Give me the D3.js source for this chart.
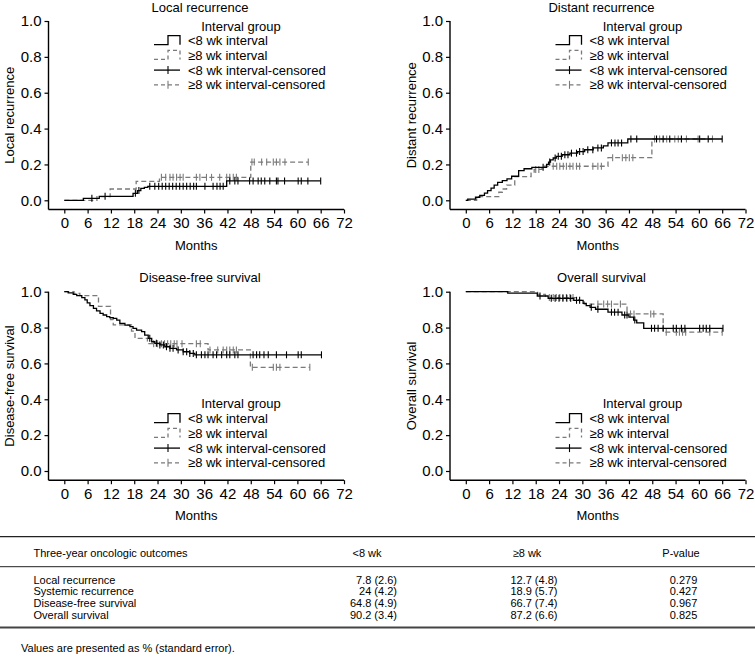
<!DOCTYPE html>
<html><head><meta charset="utf-8">
<script src="https://cdn.jsdelivr.net/npm/d3@7"></script>
<style>body{margin:0;background:#fff;} svg{display:block;} text{font-family:"Liberation Sans",Arial,Helvetica,sans-serif;fill:#000;}</style>
</head><body><svg id="c" width="755" height="661"></svg>
<script>
// ---------------- DATA ----------------
const xTicks = [0,6,12,18,24,30,36,42,48,54,60,66,72];
const yTicks = [0,0.2,0.4,0.6,0.8,1.0];
const panelTitles = ["Local recurrence","Distant recurrence","Disease-free survival","Overall survival"];
const yLabels = ["Local recurrence","Distant recurrence","Disease-free survival","Overall survival"];
const xLabel = "Months";
const legendTitle = "Interval group";
const legendItems = ["<8 wk interval","\u22658 wk interval","<8 wk interval-censored","\u22658 wk interval-censored"];

// Local recurrence
const lr_lt8_t = [0,4.9,9.0,17.7,18.8,19.7,20.6,21.5,41.8];
const lr_lt8_v = [0,0.011,0.022,0.039,0.054,0.067,0.072,0.078,0.108];
const lr_lt8_c = [7.1,10.5,18.3,19.2,22.0,23.3,24.3,25.2,26.1,27.0,27.9,28.8,29.7,30.6,31.5,32.4,33.3,34.0,36.2,38.3,39.3,40.1,40.9,42.6,43.9,44.7,47.7,48.6,49.9,50.7,51.6,52.9,54.6,55.0,56.7,60.2,61.0,62.7,66.0];
const lr_ge8_t = [0,8.4,11.8,18.5,24.5,48.0];
const lr_ge8_v = [0,0.021,0.063,0.106,0.128,0.213];
const lr_ge8_c = [25.0,26.1,27.2,28.0,28.9,29.8,30.6,34.0,34.9,36.6,37.9,40.0,41.8,42.6,43.5,44.3,48.3,48.9,50.8,52.1,53.8,54.6,55.5,56.8,62.8];

// Distant recurrence
const dr_lt8_t = [0,0.5,2.5,3.6,4.8,5.6,6.5,7.3,8.2,9.4,10.6,11.8,13.6,15.0,17.0,20.8,21.3,21.8,22.5,23.3,24.8,26.8,28.8,30.6,32.8,35.4,36.6,41.7];
const dr_lt8_v = [0,0.006,0.017,0.028,0.040,0.054,0.068,0.085,0.100,0.110,0.120,0.134,0.165,0.176,0.184,0.200,0.213,0.226,0.236,0.245,0.254,0.263,0.272,0.282,0.292,0.303,0.320,0.342];
const dr_lt8_c = [19.9,21.6,23.0,23.8,24.6,25.5,26.3,27.2,28.5,29.3,30.2,31.4,32.7,34.0,34.9,37.5,38.4,39.2,40.1,42.5,44.0,49.1,50.8,52.5,55.5,60.2,62.4,66.0];
const dr_ge8_t = [0,2.8,8.5,9.4,10.5,12.6,16.8,17.6,19.6,36.6,47.9];
const dr_ge8_v = [0,0.020,0.045,0.063,0.085,0.132,0.152,0.172,0.190,0.238,0.342];
const dr_ge8_c = [18.0,18.8,22.5,23.4,24.2,25.1,25.9,26.8,27.6,28.5,29.3,32.7,34.0,34.9,37.8,40.3,41.2,42.1,43.0,48.6,49.9,51.7,53.8,54.7,56.8,59.8,63.5];

// Disease-free survival
const dfs_lt8_t = [0,1.0,2.3,3.2,4.5,5.3,5.9,6.6,7.5,8.3,9.2,10.0,10.9,11.7,12.6,13.5,14.3,15.6,16.9,17.7,18.6,19.9,20.7,21.6,22.5,23.3,24.6,25.9,27.2,28.9,30.6,32.3,33.6];
const dfs_lt8_v = [1,0.993,0.985,0.978,0.967,0.954,0.938,0.922,0.907,0.893,0.879,0.870,0.861,0.855,0.851,0.842,0.823,0.814,0.805,0.795,0.786,0.777,0.758,0.740,0.721,0.712,0.703,0.693,0.684,0.675,0.665,0.656,0.648];
const dfs_lt8_c = [22.0,23.7,24.6,25.5,26.3,27.2,28.0,29.3,30.6,31.5,32.3,33.2,34.0,35.3,36.2,37.0,38.3,39.2,40.5,41.8,42.6,43.9,44.7,48.6,49.5,50.3,51.4,52.5,54.6,57.2,60.2,61.0,66.2];
const dfs_ge8_t = [0,2.5,4.0,8.8,11.9,12.6,17.3,18.2,21.4,37.0,47.9];
const dfs_ge8_v = [1,0.990,0.978,0.918,0.845,0.815,0.780,0.740,0.710,0.675,0.578];
const dfs_ge8_c = [23.0,24.0,25.0,25.8,26.6,27.4,28.3,29.0,30.3,34.0,35.0,37.5,39.5,40.9,41.8,42.6,43.5,44.3,48.4,53.8,54.6,55.5,63.2];

// Overall survival
const os_lt8_t = [0,10.8,18.4,21.2,27.8,30.2,31.0,32.0,33.4,36.6,40.2,42.0,43.2,44.0,45.8];
const os_lt8_v = [1,0.992,0.976,0.963,0.952,0.935,0.922,0.913,0.902,0.886,0.870,0.858,0.842,0.826,0.796];
const os_lt8_c = [19.1,22.0,23.0,24.0,25.0,26.0,27.0,28.5,29.3,32.3,34.0,37.5,38.3,39.2,40.9,41.5,43.5,47.8,48.6,49.5,50.8,53.4,54.2,55.5,56.4,60.2,61.1,61.9,62.8,66.2];
const os_ge8_t = [0,18.5,20.5,29.0,30.5,41.5,50.8];
const os_ge8_v = [1,0.985,0.967,0.952,0.931,0.876,0.774];
const os_ge8_c = [21.5,22.5,23.3,24.2,25.0,25.9,26.8,27.6,34.0,35.5,36.5,37.5,39.8,42.4,43.3,47.6,48.4,51.6,54.2,55.0,55.8,56.6,62.8,66.0];

// Table
const tblHeader = ["Three-year oncologic outcomes","<8 wk","\u22658 wk","P-value"];
const tblRows = ["Local recurrence","Systemic recurrence","Disease-free survival","Overall survival"];
const tblLt8 = ["7.8 (2.6)","24 (4.2)","64.8 (4.9)","90.2 (3.4)"];
const tblGe8 = ["12.7 (4.8)","18.9 (5.7)","66.7 (7.4)","87.2 (6.6)"];
const tblP = ["0.279","0.427","0.967","0.825"];
const footnote = "Values are presented as % (standard error).";

// ---------------- DRAW ----------------
const svg = d3.select("#c");
const BLACK = "#000", GREY = "#7a7a7a";
const L = {x0:64.3, x72:344, yTop:21, yBot:200.3, axisX:48.5, axisY:209.5};
const offsets = [[0,0],[401.5,0],[0,270.7],[401.5,270.7]];
const legendTop = [26, 26, 133.3, 133.3];

const series = [
  [{t:lr_lt8_t,v:lr_lt8_v,c:lr_lt8_c},{t:lr_ge8_t,v:lr_ge8_v,c:lr_ge8_c}],
  [{t:dr_lt8_t,v:dr_lt8_v,c:dr_lt8_c},{t:dr_ge8_t,v:dr_ge8_v,c:dr_ge8_c}],
  [{t:dfs_lt8_t,v:dfs_lt8_v,c:dfs_lt8_c},{t:dfs_ge8_t,v:dfs_ge8_v,c:dfs_ge8_c}],
  [{t:os_lt8_t,v:os_lt8_v,c:os_lt8_c},{t:os_ge8_t,v:os_ge8_v,c:os_ge8_c}]
];

function stepVal(tt, ts, vs){ let v = vs[0]; for(let i=0;i<ts.length;i++){ if(ts[i]<=tt) v=vs[i]; } return v; }

series.forEach((pair, pi) => {
  const [ox, oy] = offsets[pi];
  const g = svg.append("g").attr("transform", `translate(${ox},${oy})`);
  const x = d3.scaleLinear().domain([0,72]).range([L.x0, L.x72]);
  const y = d3.scaleLinear().domain([0,1]).range([L.yBot, L.yTop]);

  const ya = g.append("g").attr("transform", `translate(${L.axisX},0)`)
    .call(d3.axisLeft(y).tickValues(yTicks).tickFormat(d3.format(".1f")).tickSize(4).tickPadding(3));
  ya.select(".domain").remove();
  const xa = g.append("g").attr("transform", `translate(0,${L.axisY})`)
    .call(d3.axisBottom(x).tickValues(xTicks).tickSize(4).tickPadding(4));
  xa.select(".domain").remove();
  [ya, xa].forEach(a => {
    a.selectAll("line").attr("stroke", BLACK).attr("stroke-width", 1.2);
    a.selectAll("text").style("font-size","15px").style("font-family",'"Liberation Sans",Arial,sans-serif').attr("fill", BLACK);
  });
  g.append("line").attr("x1",L.axisX).attr("x2",L.axisX).attr("y1",y(1)).attr("y2",L.axisY).attr("stroke",BLACK).attr("stroke-width",1.4);
  g.append("line").attr("x1",L.axisX).attr("x2",x(72)).attr("y1",L.axisY).attr("y2",L.axisY).attr("stroke",BLACK).attr("stroke-width",1.4);

  g.append("text").attr("x", 200).attr("y", 11.5).attr("text-anchor","middle").style("font-size","13px").text(panelTitles[pi]);
  g.append("text").attr("transform", `translate(14,${(y(1)+L.axisY)/2}) rotate(-90)`).attr("text-anchor","middle").style("font-size","13px").text(yLabels[pi]);
  g.append("text").attr("x", (L.axisX + x(72))/2).attr("y", 249.5).attr("text-anchor","middle").style("font-size","13px").text(xLabel);

  const line = d3.line().x(d=>x(d[0])).y(d=>y(d[1])).curve(d3.curveStepAfter);
  [1,0].forEach(si => {
    const s = pair[si];
    const pts = s.t.map((tt,i)=>[tt, s.v[i]]);
    const end = Math.max(d3.max(s.c), s.t[s.t.length-1]);
    pts.push([end, s.v[s.v.length-1]]);
    const col = si===0 ? BLACK : GREY;
    g.append("path").attr("d", line(pts)).attr("fill","none").attr("stroke", col)
      .attr("stroke-width", 1.3).attr("stroke-dasharray", si===0 ? null : "5,3");
    g.append("g").selectAll("line").data(s.c).join("line")
      .attr("x1", d=>x(d)).attr("x2", d=>x(d))
      .attr("y1", d=>y(stepVal(d, s.t, s.v))-3.5).attr("y2", d=>y(stepVal(d, s.t, s.v))+3.5)
      .attr("stroke", col).attr("stroke-width", 1.1);
  });

  const ly = legendTop[pi];
  const lg = g.append("g");
  lg.append("text").attr("x", 241).attr("y", ly+4.5).attr("text-anchor","middle").style("font-size","13px").text(legendTitle);
  legendItems.forEach((txt, k) => {
    const cy = ly + 14.7*(k+1);
    const col = (k%2===0) ? BLACK : GREY;
    const dash = (k%2===0) ? null : "4,3";
    if (k < 2) {
      lg.append("path").attr("d", `M154,${cy+4}H168V${cy-5}H180V${cy+4}`)
        .attr("fill","none").attr("stroke",col).attr("stroke-width",1.3).attr("stroke-dasharray",dash);
    } else {
      lg.append("line").attr("x1",154).attr("x2",180).attr("y1",cy).attr("y2",cy)
        .attr("stroke",col).attr("stroke-width",1.3).attr("stroke-dasharray",dash);
      lg.append("line").attr("x1",168).attr("x2",168).attr("y1",cy-4).attr("y2",cy+4)
        .attr("stroke",col).attr("stroke-width",1.1);
    }
    lg.append("text").attr("x",188).attr("y",cy+4.5).style("font-size","13px").text(txt);
  });
});

// ---------------- TABLE ----------------
const T = svg.append("g");
const tf = "11px";
T.append("line").attr("x1",0).attr("x2",755).attr("y1",536.7).attr("y2",536.7).attr("stroke","#222").attr("stroke-width",1.3);
T.append("line").attr("x1",0).attr("x2",755).attr("y1",566.7).attr("y2",566.7).attr("stroke","#222").attr("stroke-width",1);
T.append("line").attr("x1",0).attr("x2",755).attr("y1",627.5).attr("y2",627.5).attr("stroke","#444").attr("stroke-width",2);
const hdrY = 557;
const colX = [33.5, 367, 527, 681];
T.append("text").attr("x",colX[0]).attr("y",hdrY).style("font-size",tf).text(tblHeader[0]);
[1,2,3].forEach(i => T.append("text").attr("x",colX[i]).attr("y",hdrY).attr("text-anchor","middle").style("font-size",tf).text(tblHeader[i]));
const rowY = [583.5, 595.3, 607.1, 618.9];
tblRows.forEach((r,i) => {
  T.append("text").attr("x",33.5).attr("y",rowY[i]).style("font-size",tf).text(r);
  T.append("text").attr("x",397).attr("y",rowY[i]).attr("text-anchor","end").style("font-size",tf).text(tblLt8[i]);
  T.append("text").attr("x",557.5).attr("y",rowY[i]).attr("text-anchor","end").style("font-size",tf).text(tblGe8[i]);
  T.append("text").attr("x",683.5).attr("y",rowY[i]).attr("text-anchor","middle").style("font-size",tf).text(tblP[i]);
});
T.append("text").attr("x",21).attr("y",652).style("font-size",tf).text(footnote);
</script></body></html>
